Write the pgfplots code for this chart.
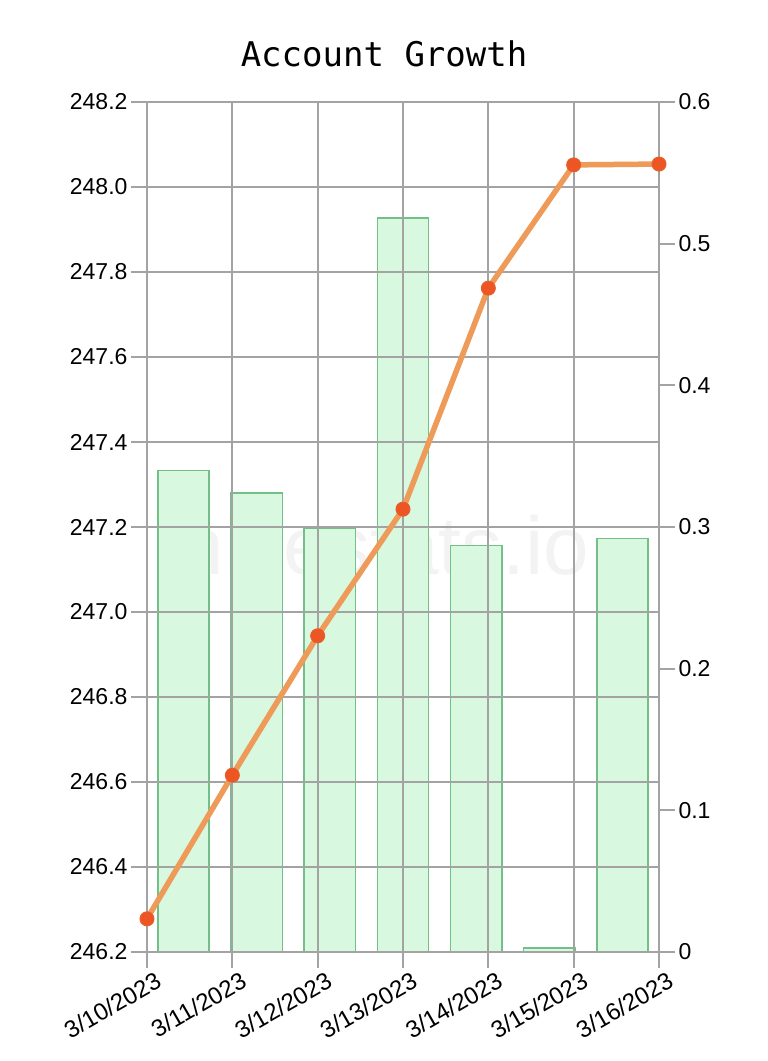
\documentclass[border=0pt]{standalone}
\usepackage{fontspec}
\setmainfont{Liberation Sans}
\newfontfamily\titlefont{DejaVu Sans Mono}
\usepackage{pgfplots}
\pgfplotsset{compat=1.18}
\definecolor{gridgray}{HTML}{A3A3A3}
\definecolor{barfill}{HTML}{D8F8DF}
\definecolor{baredge}{HTML}{74BE88}
\definecolor{lineorange}{HTML}{EE9A58}
\definecolor{markred}{HTML}{EE5524}
\definecolor{markedge}{HTML}{E4602C}
\definecolor{wm}{HTML}{F3F3F3}
\begin{document}
\begin{tikzpicture}
\pgfplotsset{
  common/.style={
    scale only axis, width=512pt, height=850pt,
    /pgf/number format/assume math mode=true,
    tick label style={font=\fontsize{23}{27}\selectfont},
    major tick length=16pt,
    tick align=outside,
    tick style={draw=gridgray, line width=2pt},
    axis line style={draw=none},
  }
}
% bars on the right axis
\begin{axis}[common,
  xmin=-0.5, xmax=6.5, ymin=0, ymax=0.6,
  axis x line=none,
  axis y line*=right,
  ytick={0,0.1,0.2,0.3,0.4,0.5,0.6},
  yticklabel style={/pgf/number format/fixed},
  bar width=0.7,
  clip=false,
]
\node[text=wm, font=\fontsize{82}{90}\selectfont] at (axis description cs:0.463,0.479) {hivestats.io};
\addplot[ybar, fill=barfill, draw=baredge, line width=1.6pt] coordinates {
  (0,0.340) (1,0.324) (2,0.299) (3,0.518) (4,0.287) (5,0.003) (6,0.292)
};
\end{axis}
% line on the left axis
\begin{axis}[common,
  xmin=0, xmax=6, ymin=246.2, ymax=248.2,
  axis x line*=bottom,
  axis y line*=left,
  xtick={0,1,2,3,4,5,6},
  xticklabels={3/10/2023,3/11/2023,3/12/2023,3/13/2023,3/14/2023,3/15/2023,3/16/2023},
  xticklabel style={rotate=30, anchor=north east, inner sep=1pt, xshift=6pt, yshift=-5pt, font=\fontsize{24}{28}\selectfont},
  ytick={246.2,246.4,246.6,246.8,247.0,247.2,247.4,247.6,247.8,248.0,248.2},
  yticklabel style={/pgf/number format/fixed, /pgf/number format/fixed zerofill, /pgf/number format/precision=1},
  grid=major,
  grid style={draw=gridgray, line width=2pt},
  clip=false,
]
\addplot[lineorange, line width=5.5pt, mark=*, mark size=7pt,
  mark options={fill=markred, draw=markedge, line width=1pt}] coordinates {
  (0,246.278) (1,246.616) (2,246.944) (3,247.242) (4,247.762) (5,248.052) (6,248.054)
};
\node[font=\titlefont\fontsize{34}{40}\selectfont, anchor=base] at (axis description cs:0.463,1.0412) {Account Growth};
\end{axis}
\pgfresetboundingbox
\path[use as bounding box] (-147pt,-109pt) rectangle (621pt,952pt);
\end{tikzpicture}
\end{document}
